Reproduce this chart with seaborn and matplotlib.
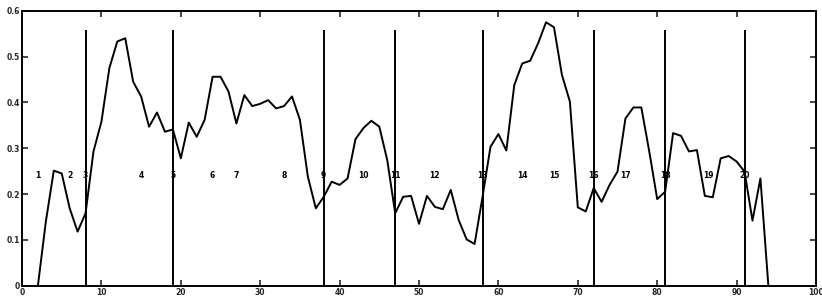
import matplotlib
matplotlib.use("Agg")
import matplotlib.pyplot as plt
import seaborn as sns
import pandas as pd

# Curve data
x_vals = list(range(2, 95))
y_vals = [0.0, 0.14, 0.251, 0.245, 0.169, 0.118, 0.158, 0.293, 0.358, 0.475,
          0.533, 0.540, 0.445, 0.413, 0.347, 0.378, 0.336, 0.341, 0.278, 0.356,
          0.325, 0.362, 0.456, 0.456, 0.424, 0.354, 0.416, 0.392, 0.397, 0.405,
          0.387, 0.392, 0.413, 0.362, 0.238, 0.169, 0.194, 0.227, 0.220, 0.234,
          0.320, 0.344, 0.360, 0.347, 0.274, 0.158, 0.194, 0.196, 0.135, 0.196,
          0.172, 0.167, 0.209, 0.143, 0.101, 0.091, 0.194, 0.303, 0.331, 0.295,
          0.438, 0.485, 0.491, 0.529, 0.575, 0.564, 0.460, 0.402, 0.171, 0.162,
          0.213, 0.183, 0.220, 0.249, 0.365, 0.389, 0.389, 0.293, 0.189, 0.205,
          0.333, 0.327, 0.293, 0.296, 0.196, 0.193, 0.278, 0.283, 0.271, 0.249,
          0.142, 0.234, 0.0]

# Segment boundaries
boundaries = [8, 19, 38, 47, 58, 72, 81, 91]
boundary_top = 0.558

# Segment labels
seg_labels = [str(i) for i in range(1, 21)]
seg_label_x = [2, 6, 8, 15, 19, 24, 27, 33, 38, 43, 47, 52, 58, 63, 67, 72, 76, 81, 86.4, 91]
seg_label_y = 0.24

x_ticks = [0, 10, 20, 30, 40, 50, 60, 70, 80, 90, 100]
y_ticks = [0, 0.1, 0.2, 0.3, 0.4, 0.5, 0.6]
y_tick_labels = ["0", "0.1", "0.2", "0.3", "0.4", "0.5", "0.6"]

sns.set_style("ticks")
plt.rcParams['font.family'] = ['DejaVu Sans']

fig = plt.figure(figsize=(8.22, 2.98), dpi=100)
ax = fig.add_axes([0.0268, 0.0413, 0.9659, 0.9225])

df = pd.DataFrame({"x": x_vals, "y": y_vals})
sns.lineplot(data=df, x="x", y="y", ax=ax, color="black", linewidth=1.4)

ax.vlines(boundaries, 0, boundary_top, color="black", linewidth=1.4)

for lab, lx in zip(seg_labels, seg_label_x):
    ax.text(lx, seg_label_y, lab, ha="center", va="center", fontsize=5.5,
            fontweight="bold", color="black")

ax.set_xlim(0, 100)
ax.set_ylim(0, 0.6)
ax.set_xticks(x_ticks)
ax.set_yticks(y_ticks)
ax.set_xticklabels([str(t) for t in x_ticks])
ax.set_yticklabels(y_tick_labels)
ax.tick_params(direction="in", length=4, width=1.2, labelsize=5.5,
               top=True, right=True, pad=1.5)
for lbl in ax.get_xticklabels() + ax.get_yticklabels():
    lbl.set_fontweight("bold")
ax.set_xlabel("")
ax.set_ylabel("")
for s in ax.spines.values():
    s.set_visible(True)
    s.set_linewidth(1.4)
    s.set_color("black")

fig.savefig("out.png", dpi=100)
